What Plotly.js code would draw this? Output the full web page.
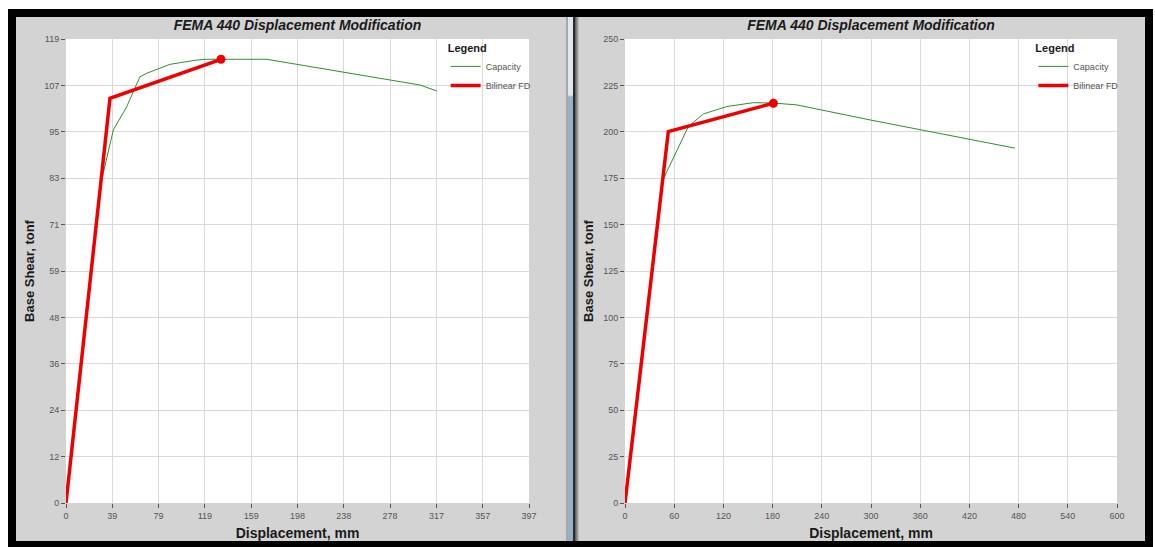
<!DOCTYPE html>
<html>
<head>
<meta charset="utf-8">
<script src="https://cdn.plot.ly/plotly-3.0.1.min.js"></script>
<style>
  html, body { margin: 0; padding: 0; background: #ffffff; }
  #frame { position: absolute; left: 8px; top: 9px; width: 1145px; height: 538px; background: #000; }
  .panel { position: absolute; top: 17px; height: 524px; background: #d3d3d3; }
  #sepA { position: absolute; left: 566px; top: 17px; width: 2px; height: 524px; background: #a8a8a8; }
  #sepB { position: absolute; left: 568px; top: 17px; width: 5px; height: 524px;
          background: linear-gradient(to bottom, #dfe7ef 0px, #dfe7ef 78px, #93b1c9 80px, #93b1c9 100%); }
  #sepC { position: absolute; left: 573px; top: 17px; width: 2px; height: 524px; background: #2a2a2a; }
  #sepD { position: absolute; left: 575px; top: 17px; width: 4px; height: 524px;
          background: linear-gradient(to right, #555 0%, #9a9a9a 60%, #c8c8c8 100%); }
</style>
</head>
<body>
<div id="frame"></div>
<div id="sepA"></div><div id="sepB"></div><div id="sepC"></div><div id="sepD"></div>
<div id="left" class="panel" style="left:16px;width:550px;"></div>
<div id="right" class="panel" style="left:579px;width:566px;"></div>
<script>
// ---- Left chart data ----
const leftCapX = [0, 29.6, 40.6, 52, 63.4, 69.2, 89.2, 112.1, 120.6, 172.1, 303.5, 317.8];
const leftCapY = [0, 81.6, 95.7, 101.6, 109.3, 110.2, 112.5, 113.6, 113.8, 113.8, 107.2, 105.7];
const leftBilX = [0, 37.7, 132.9];
const leftBilY = [0, 103.8, 113.8];
const leftXTicks = [0, 39.7, 79.4, 119.1, 158.8, 198.5, 238.2, 277.9, 317.6, 357.3, 397];
const leftXTickText = ["0", "39", "79", "119", "159", "198", "238", "278", "317", "357", "397"];
const leftYTicks = [0, 11.9, 23.8, 35.7, 47.6, 59.5, 71.4, 83.3, 95.2, 107.1, 119];
const leftYTickText = ["0", "12", "24", "36", "48", "59", "71", "83", "95", "107", "119"];

// ---- Right chart data ----
const rightCapX = [0, 46.7, 77.2, 95.5, 124, 156.5, 180.5, 209.4, 298.8, 475.6];
const rightCapY = [0, 174.5, 202.8, 209.6, 213.6, 215.7, 215.5, 214.5, 206.4, 191.2];
const rightBilX = [0, 52.8, 181];
const rightBilY = [0, 200.1, 215.4];
const rightXTicks = [0, 60, 120, 180, 240, 300, 360, 420, 480, 540, 600];
const rightXTickText = ["0", "60", "120", "180", "240", "300", "360", "420", "480", "540", "600"];
const rightYTicks = [0, 25, 50, 75, 100, 125, 150, 175, 200, 225, 250];
const rightYTickText = ["0", "25", "50", "75", "100", "125", "150", "175", "200", "225", "250"];

const titleText = "FEMA 440 Displacement Modification";
const xTitle = "Displacement, mm";
const yTitle = "Base Shear, tonf";
const seriesNames = ["Capacity", "Bilinear FD"];

const FONT = "Liberation Sans, Arial, sans-serif";
const GREEN = "#2f8f2f";
const RED = "#ee0000";

function makeTraces(capX, capY, bilX, bilY) {
  const n = bilX.length - 1;
  return [
    { x: capX, y: capY, type: "scatter", mode: "lines", name: seriesNames[0],
      line: { color: GREEN, width: 1 } },
    { x: bilX, y: bilY, type: "scatter", mode: "lines", name: seriesNames[1],
      line: { color: RED, width: 3.5 } },
    { x: [bilX[n]], y: [bilY[n]], type: "scatter", mode: "markers", showlegend: false,
      marker: { color: RED, size: 9 } }
  ];
}

function makeLayout(w, margin, xr, xt, xtt, yr, yt, ytt, legX) {
  const axisCommon = {
    showline: false, zeroline: false, ticks: "outside", ticklen: 4, tickwidth: 1,
    tickcolor: "#555", gridcolor: "#d9d9d9", gridwidth: 1,
    tickfont: { family: FONT, size: 9, color: "#555" }, tickmode: "array"
  };
  return {
    width: w, height: 524, margin: margin,
    paper_bgcolor: "#d3d3d3", plot_bgcolor: "#ffffff",
    showlegend: true,
    title: { text: titleText, x: 0.5, xref: "paper", y: 1 - 8 / 524, yref: "container",
             yanchor: "middle",
             font: { family: FONT, size: 14, color: "#1a1a1a", weight: "bold", style: "italic" } },
    xaxis: Object.assign({}, axisCommon, { range: xr, tickvals: xt, ticktext: xtt,
      title: { text: xTitle, standoff: 8, font: { family: FONT, size: 14, color: "#1a1a1a", weight: "bold" } } }),
    yaxis: Object.assign({}, axisCommon, { range: yr, tickvals: yt, ticktext: ytt,
      title: { text: yTitle, standoff: 6, font: { family: FONT, size: 13, color: "#1a1a1a", weight: "bold" } } }),
    legend: { x: legX, xanchor: "left", y: 1.003, yanchor: "top", bgcolor: "rgba(0,0,0,0)",
      title: { text: "Legend", font: { family: FONT, size: 11, color: "#1a1a1a", weight: "bold" } },
      font: { family: FONT, size: 9, color: "#555" }, tracegroupgap: 0, itemwidth: 30 }
  };
}

const cfg = { displayModeBar: false, staticPlot: true };

Plotly.newPlot("left", makeTraces(leftCapX, leftCapY, leftBilX, leftBilY),
  makeLayout(550, { l: 50, r: 37, t: 22, b: 38, pad: 0 }, [0, 397], leftXTicks, leftXTickText,
             [0, 119], leftYTicks, leftYTickText, 0.82), cfg);

Plotly.newPlot("right", makeTraces(rightCapX, rightCapY, rightBilX, rightBilY),
  makeLayout(566, { l: 46, r: 28, t: 22, b: 38, pad: 0 }, [0, 600], rightXTicks, rightXTickText,
             [0, 250], rightYTicks, rightYTickText, 0.83), cfg);
</script>
</body>
</html>
